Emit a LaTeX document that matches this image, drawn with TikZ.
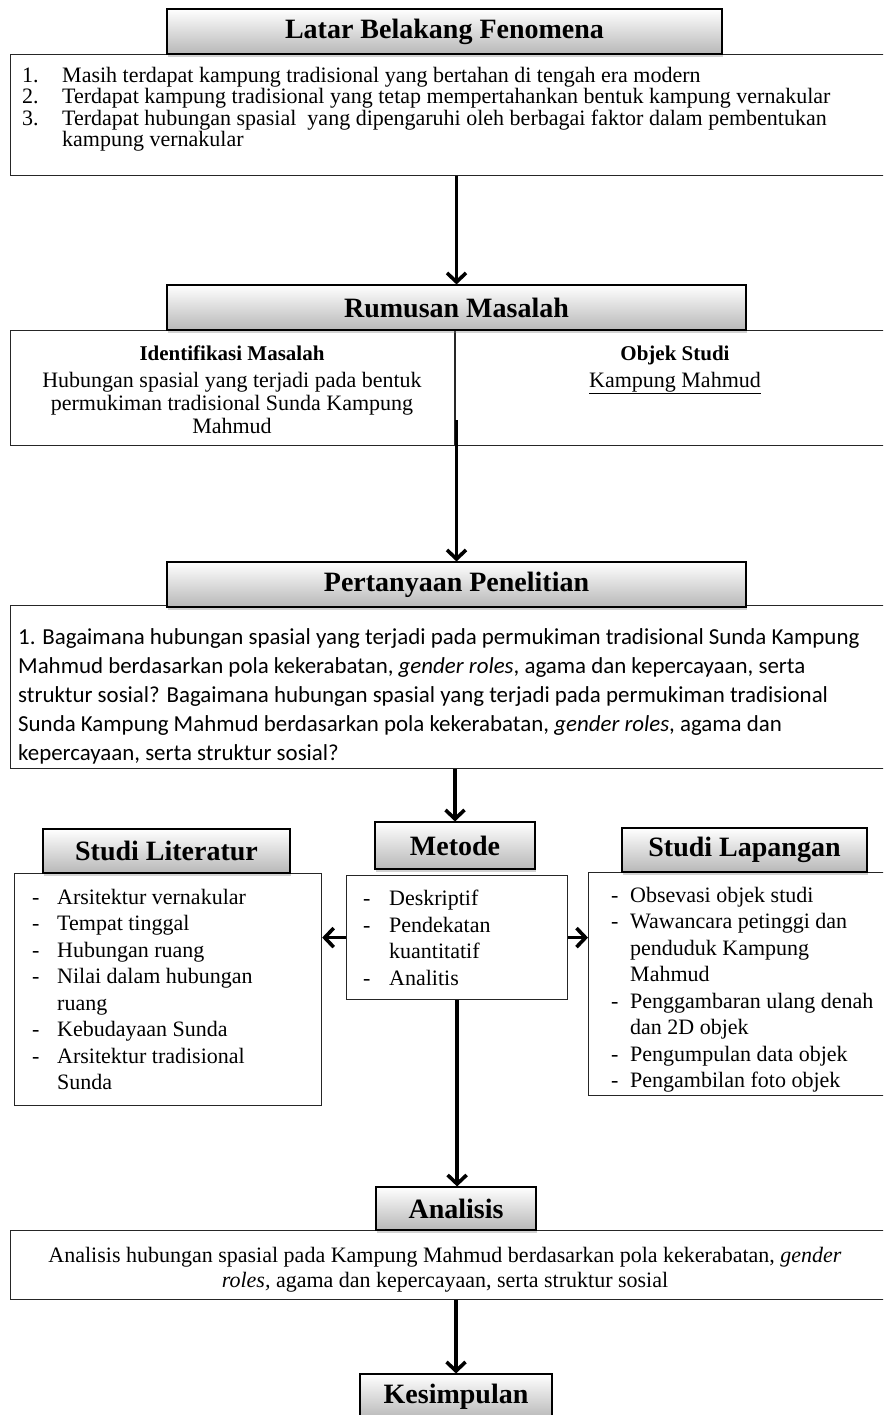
\documentclass[tikz,border=0pt]{standalone}
\usepackage{fontspec}
\setmainfont{Liberation Serif}
\newfontfamily\calib{Carlito}
\usetikzlibrary{arrows.meta,shadows,calc}
\begin{document}
\begin{tikzpicture}[x=1pt,y=-1pt,
  hdr/.style={draw=black, line width=1.1pt, top color=white, bottom color=black!28,
    inner sep=0pt, font=\fontsize{28}{30}\selectfont\bfseries,
    drop shadow={opacity=0.35, shadow xshift=1pt, shadow yshift=-3pt}},
  box/.style={draw=black!85, line width=1.2pt, fill=white, inner sep=0pt, anchor=north west},
  txt/.style={inner sep=0pt, anchor=north west, align=left},
  ctxt/.style={inner sep=0pt, anchor=north, align=center},
  arr/.style={line width=3.6pt, -{Straight Barb[length=9pt,width=19pt]}},
  sep/.style={line width=1.2pt, draw=black!85}]
\clip (0,0) rectangle (883,1415);
\fill[white] (0,0) rectangle (883,1415);

% ---------- boxes ----------
\node[box, minimum width=880pt, minimum height=121pt] (b1) at (10,54) {};
\node[box, minimum width=880pt, minimum height=115pt] (b2) at (10,330) {};
\node[box, minimum width=880pt, minimum height=163pt] (b3) at (10,605) {};
\node[box, minimum width=307pt, minimum height=232pt] (lb) at (14,873) {};
\node[box, minimum width=221pt, minimum height=124pt] (mb) at (346,875) {};
\node[box, minimum width=302pt, minimum height=223pt] (pb) at (588,872) {};
\node[box, minimum width=880pt, minimum height=69pt] (ab) at (10,1230) {};
\draw[sep] ($(b2.north west)+(445,0)$) -- ($(b2.south west)+(445,0)$);

% ---------- headers ----------
\node[hdr, minimum width=555pt, minimum height=45pt] (h1) at (444.5,31.5) {Latar Belakang Fenomena};
\node[hdr, minimum width=579pt, minimum height=45pt] (h2) at (456.5,307.5) {Rumusan Masalah};
\node[hdr, minimum width=579pt, minimum height=45pt] (h3) at (456.5,584.5) {Pertanyaan Penelitian};
\node[hdr, minimum width=247pt, minimum height=44pt] (hl) at (166.5,851) {Studi Literatur};
\node[hdr, minimum width=160pt, minimum height=47pt] (hm) at (455,845.5) {Metode};
\node[hdr, minimum width=245pt, minimum height=44pt] (hp) at (744.5,850) {Studi Lapangan};
\node[hdr, minimum width=160pt, minimum height=43pt] (ha) at (456,1208.5) {Analisis};
\node[hdr, minimum width=192pt, minimum height=45pt] (hk) at (456,1396.5) {Kesimpulan};

% ---------- texts ----------
\node[txt, font=\fontsize{22}{21.5}\selectfont] (t1) at (22,67) {%
\makebox[40pt][l]{1.}Masih terdapat kampung tradisional yang bertahan di tengah era modern\\
\makebox[40pt][l]{2.}Terdapat kampung tradisional yang tetap mempertahankan bentuk kampung vernakular\\
\makebox[40pt][l]{3.}Terdapat hubungan spasial\ \ yang dipengaruhi oleh berbagai faktor dalam pembentukan\\
\hspace*{40pt}kampung vernakular};

\node[ctxt, font=\fontsize{21}{23}\selectfont\bfseries] (idh) at (232,346) {Identifikasi Masalah};
\node[ctxt, font=\fontsize{21}{23}\selectfont\bfseries] (obh) at (675,346) {Objek Studi};
\node[ctxt, font=\fontsize{22}{23}\selectfont] (idt) at (232,372) {Hubungan spasial yang terjadi pada bentuk\\permukiman tradisional Sunda Kampung\\Mahmud};
\node[ctxt, font=\fontsize{22}{23}\selectfont] (obt) at (675,372) {\underline{Kampung Mahmud}};

\node[txt, font=\fontsize{22.9}{29}\calib] (t3) at (18,628) {%
1. Bagaimana hubungan spasial yang terjadi pada permukiman tradisional Sunda Kampung\\
Mahmud berdasarkan pola kekerabatan, \textit{gender roles}, agama dan kepercayaan, serta\\
struktur sosial? Bagaimana hubungan spasial yang terjadi pada permukiman tradisional\\
Sunda Kampung Mahmud berdasarkan pola kekerabatan, \textit{gender roles}, agama dan\\
kepercayaan, serta struktur sosial?};

\node[txt, font=\fontsize{22}{26.5}\selectfont] (tl) at (32,889) {%
\makebox[25pt][l]{-}Arsitektur vernakular\\
\makebox[25pt][l]{-}Tempat tinggal\\
\makebox[25pt][l]{-}Hubungan ruang\\
\makebox[25pt][l]{-}Nilai dalam hubungan\\
\hspace*{25pt}ruang\\
\makebox[25pt][l]{-}Kebudayaan Sunda\\
\makebox[25pt][l]{-}Arsitektur tradisional\\
\hspace*{25pt}Sunda};

\node[txt, font=\fontsize{22}{26.5}\selectfont] (tm) at (363,890) {%
\makebox[26pt][l]{-}Deskriptif\\
\makebox[26pt][l]{-}Pendekatan\\
\hspace*{26pt}kuantitatif\\
\makebox[26pt][l]{-}Analitis};

\node[txt, font=\fontsize{22}{26.5}\selectfont] (tp) at (611,887) {%
\makebox[19pt][l]{-}Obsevasi objek studi\\
\makebox[19pt][l]{-}Wawancara petinggi dan\\
\hspace*{19pt}penduduk Kampung\\
\hspace*{19pt}Mahmud\\
\makebox[19pt][l]{-}Penggambaran ulang denah\\
\hspace*{19pt}dan 2D objek\\
\makebox[19pt][l]{-}Pengumpulan data objek\\
\makebox[19pt][l]{-}Pengambilan foto objek};

\node[ctxt, font=\fontsize{22}{25}\selectfont] (ta) at (445,1247) {%
Analisis hubungan spasial pada Kampung Mahmud berdasarkan pola kekerabatan, \textit{gender}\\
\textit{roles,} agama dan kepercayaan, serta struktur sosial};

% ---------- connectors ----------
\coordinate (a2) at (456.5,420);
\draw[arr] (h2.north |- b1.south) -- (h2.north);
\draw[arr] (a2) -- (h3.north);
\draw[arr] (hm.north |- b3.south) -- (hm.north);
\draw[arr] (mb.west) -- (mb.west -| lb.east);
\draw[arr] (mb.east) -- (mb.east -| pb.west);
\draw[arr] (mb.south) -- (mb.south |- ha.north);
\draw[arr] (ha.north |- ab.south) -- (hk.north);
\end{tikzpicture}
\end{document}
